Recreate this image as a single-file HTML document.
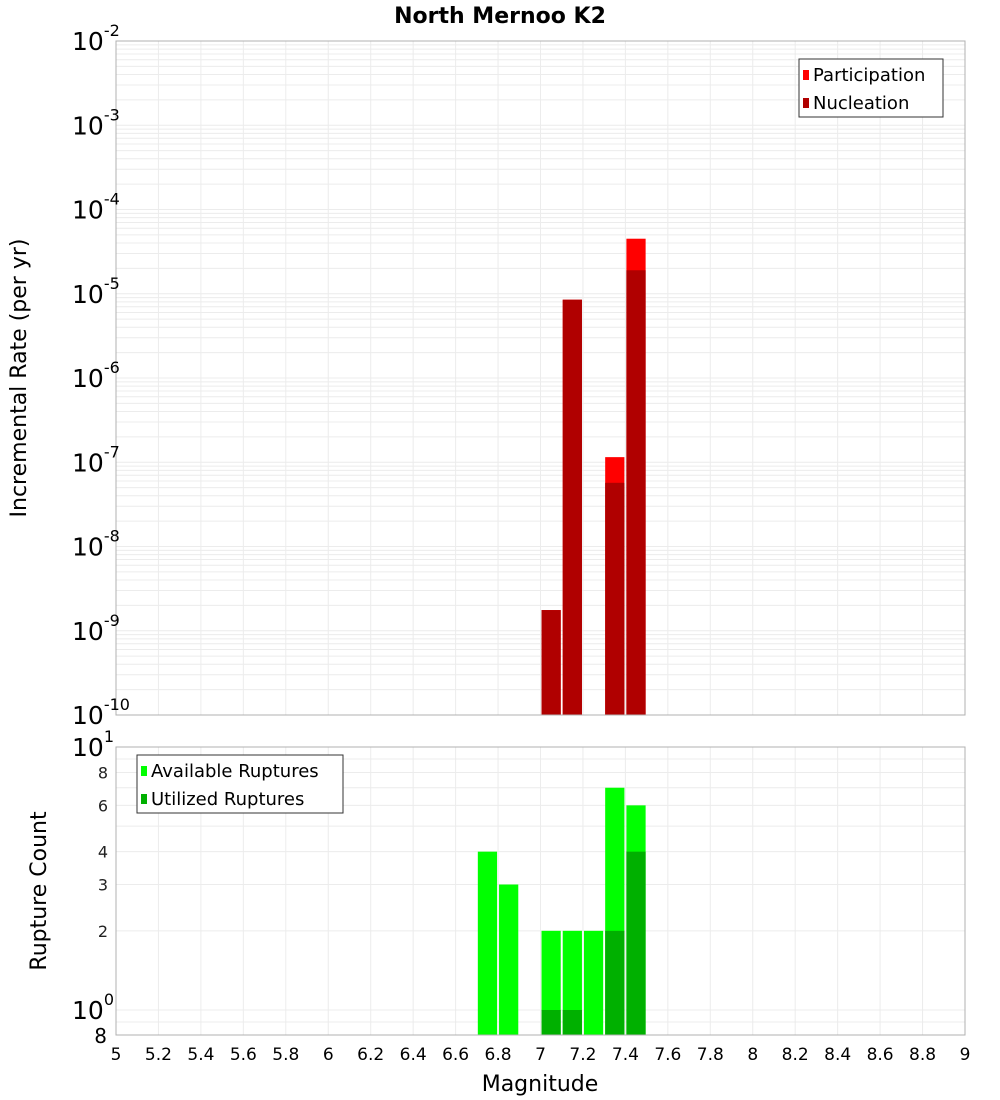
<!DOCTYPE html>
<html><head><meta charset="utf-8"><style>
body{margin:0;background:#fff;}
svg{display:block;font-family:"DejaVu Sans","Liberation Sans",sans-serif;}
</style></head><body>
<svg id="c" width="1000" height="1100" xmlns="http://www.w3.org/2000/svg"></svg>
<script>
const topMags=[7.05,7.15,7.35,7.45];
const participation=[1.76e-9,8.5e-6,1.15e-7,4.5e-5];
const nucleation=[1.76e-9,8.5e-6,5.7e-8,1.9e-5];
const botMags=[6.75,6.85,7.05,7.15,7.25,7.35,7.45];
const available=[4,3,2,2,2,7,6];
const utilized=[0,0,1,1,0,2,4];
const xTicks=[5,5.2,5.4,5.6,5.8,6,6.2,6.4,6.6,6.8,7,7.2,7.4,7.6,7.8,8,8.2,8.4,8.6,8.8,9];
const topExp=[-10,-9,-8,-7,-6,-5,-4,-3,-2];
const botMinorLabels=[2,3,4,6,8];

const svg=document.getElementById('c');
const NS='http://www.w3.org/2000/svg';
function mk(t,a,p){const e=document.createElementNS(NS,t);for(const k in a)e.setAttribute(k,a[k]);(p||svg).appendChild(e);return e;}
const L=116,R=965;
const x=v=>L+(v-5)/4*(R-L);
const T0=41,T1=715;
const yT=v=>T1-(Math.log10(v)+10)/8*(T1-T0);
const B0=747,B1=1035;
const yB=v=>1010-Math.log10(v)*263;

// title
let t=mk('text',{x:500,y:23,'text-anchor':'middle','font-size':22,'font-weight':'bold',fill:'#000'});t.textContent='North Mernoo K2';


// top grid
const gt=mk('g',{});
for(let e=-10;e<-2;e++)for(let m=1;m<10;m++){const y=yT(m*Math.pow(10,e));mk('line',{x1:L,x2:R,y1:y,y2:y,stroke:'#ececec','stroke-width':1},gt);}
xTicks.forEach(v=>mk('line',{x1:x(v),x2:x(v),y1:T0,y2:T1,stroke:'#ececec'},gt));
// bottom grid
const gb=mk('g',{});
[0.9,1,2,3,4,5,6,7,8,9].forEach(v=>{const y=yB(v);mk('line',{x1:L,x2:R,y1:y,y2:y,stroke:'#ececec'},gb);});
xTicks.forEach(v=>mk('line',{x1:x(v),x2:x(v),y1:B0,y2:B1,stroke:'#ececec'},gb));

// top bars
const bw=x(5.1)-x(5)-2;
topMags.forEach((m,i)=>{
 let r=mk('rect',{x:x(m)-bw/2,y:yT(participation[i]),width:bw,height:T1-yT(participation[i]),fill:'#ff0000'});
 
 r=mk('rect',{x:x(m)-bw/2,y:yT(nucleation[i]),width:bw,height:T1-yT(nucleation[i]),fill:'#b00000'});
 
});
// bottom bars
botMags.forEach((m,i)=>{
 let r=mk('rect',{x:x(m)-bw/2,y:yB(available[i]),width:bw,height:B1-yB(available[i]),fill:'#00ff00'});
 
 if(utilized[i]>0){r=mk('rect',{x:x(m)-bw/2,y:yB(utilized[i]),width:bw,height:B1-yB(utilized[i]),fill:'#00b000'});
 }
});

// frames
let f=mk('rect',{x:L,y:T0,width:R-L,height:T1-T0,fill:'none',stroke:'#b0b0b0'});
f=mk('rect',{x:L,y:B0,width:R-L,height:B1-B0,fill:'none',stroke:'#b0b0b0'});

// top y labels
topExp.forEach(e=>{const y=yT(Math.pow(10,e));
 const tx=mk('text',{x:72,y:y+9,'font-size':25,fill:'#000'});
 
 tx.innerHTML='10<tspan dy="-14" font-size="16">'+e+'</tspan>';});
// bottom y labels
[[1,'0'],[10,'1']].forEach(([v,s])=>{const y=yB(v);
 const tx=mk('text',{x:72,y:y+9+(v==10?0:0),'font-size':25,fill:'#000'});
 
 tx.innerHTML='10<tspan dy="-14" font-size="16">'+s+'</tspan>';});
botMinorLabels.forEach(v=>{const tx=mk('text',{x:108,y:yB(v)+6,'text-anchor':'end','font-size':16,fill:'#222'});tx.textContent=v;
 });
let e8=mk('text',{x:107,y:1043,'text-anchor':'end','font-size':20,fill:'#000'});e8.textContent='8';


// x tick labels
xTicks.forEach(v=>{const tx=mk('text',{x:x(v),y:1060,'text-anchor':'middle','font-size':17,fill:'#000'});tx.textContent=String(v);
 });
t=mk('text',{x:540,y:1091,'text-anchor':'middle','font-size':22,fill:'#000'});t.textContent='Magnitude';

t=mk('text',{x:0,y:0,'text-anchor':'middle','font-size':22,fill:'#000',transform:'translate(26,378) rotate(-90)'});t.textContent='Incremental Rate (per yr)';

t=mk('text',{x:0,y:0,'text-anchor':'middle','font-size':22,fill:'#000',transform:'translate(46,891) rotate(-90)'});t.textContent='Rupture Count';


// legends
function legend(x0,y0,w,items,name){const g=mk('g',{});
 mk('rect',{x:x0,y:y0,width:w,height:58,fill:'#fff',stroke:'#333'},g);
 items.forEach(([c,s],i)=>{mk('rect',{x:x0+4,y:y0+11+i*28,width:6,height:10,fill:c},g);
  const tx=mk('text',{x:x0+14,y:y0+22+i*28,'font-size':18,fill:'#000'},g);tx.textContent=s;
  });}
legend(799,59,144,[['#ff0000','Participation'],['#b00000','Nucleation']],'top-legend');
legend(137,755,206,[['#00ff00','Available Ruptures'],['#00b000','Utilized Ruptures']],'bottom-legend');
</script>
</body></html>
